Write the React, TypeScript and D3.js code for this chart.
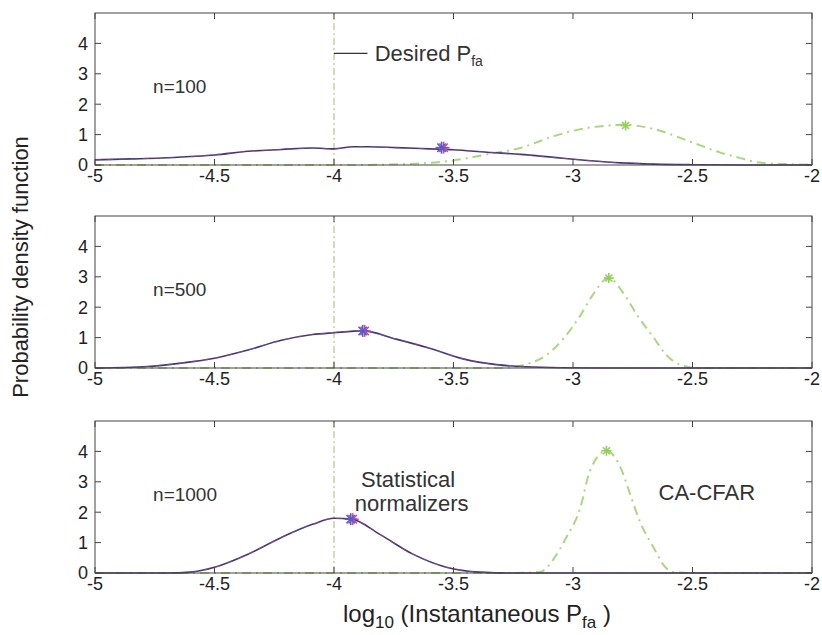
import React from 'react'
import * as d3 from 'd3'

// panel labels
const panelNames = ['n=100', 'n=500', 'n=1000']

// statistical normalizers (blue / red overlay)
const normX = [
    [-5, -4.85, -4.72, -4.6, -4.5, -4.36, -4.22, -4.09, -4.0, -3.92, -3.85, -3.74, -3.6, -3.5, -3.36, -3.22, -3.08, -2.94, -2.8, -2.66, -2.5, -2.3, -2],
    [-5, -4.78, -4.64, -4.5, -4.36, -4.22, -4.09, -4.0, -3.88, -3.74, -3.6, -3.46, -3.32, -3.2, -3.05, -2.8, -2],
    [-5, -4.7, -4.6, -4.5, -4.36, -4.22, -4.09, -4.0, -3.93, -3.81, -3.67, -3.53, -3.39, -3.25, -2]
]
const normY = [
    [0.17, 0.2, 0.23, 0.28, 0.33, 0.45, 0.51, 0.56, 0.53, 0.6, 0.6, 0.57, 0.53, 0.5, 0.42, 0.35, 0.25, 0.15, 0.07, 0.03, 0.01, 0, 0],
    [0, 0.05, 0.16, 0.32, 0.59, 0.91, 1.1, 1.16, 1.22, 0.95, 0.65, 0.3, 0.11, 0.04, 0.01, 0, 0],
    [0, 0, 0.03, 0.19, 0.62, 1.17, 1.6, 1.8, 1.78, 1.28, 0.62, 0.19, 0.03, 0, 0]
]
const normPeak = [[-3.55, 0.57], [-3.88, 1.22], [-3.93, 1.77]]

// CA-CFAR (green)
const cfarX = [
    [-5, -3.9, -3.7, -3.5, -3.36, -3.22, -3.08, -2.94, -2.78, -2.66, -2.52, -2.38, -2.31, -2.22, -2.1, -2],
    [-5, -3.3, -3.18, -3.11, -3.04, -2.97, -2.92, -2.85, -2.79, -2.73, -2.66, -2.61, -2.55, -2.48, -2],
    [-5, -3.25, -3.14, -3.08, -3.03, -2.97, -2.93, -2.86, -2.8, -2.76, -2.72, -2.66, -2.62, -2.58, -2.5, -2]
]
const cfarY = [
    [0, 0, 0.03, 0.15, 0.35, 0.56, 0.95, 1.22, 1.32, 1.18, 0.8, 0.4, 0.25, 0.08, 0.03, 0.01],
    [0, 0, 0.16, 0.43, 0.97, 1.72, 2.37, 2.96, 2.47, 1.72, 0.97, 0.43, 0.1, 0, 0],
    [0, 0, 0.03, 0.47, 1.14, 2.13, 3.34, 4.02, 3.45, 2.57, 1.69, 0.8, 0.25, 0.03, 0, 0]
]
const cfarPeak = [[-2.78, 1.3], [-2.85, 2.96], [-2.86, 4.02]]

const desiredPfa = -4
const xTicks = [-5, -4.5, -4, -3.5, -3, -2.5, -2]
const yTicks = [0, 1, 2, 3, 4]

const W = 822
const H = 635
const left = 95
const right = 812
const panelTops = [13, 216, 421]
const panelH = 152
const font = 'Liberation Sans, Arial, sans-serif'

const x = d3.scaleLinear().domain([-5, -2]).range([left, right])

const Star = ({ cx, cy, color, s = 6 }) => (
    <g stroke={color} strokeWidth={1.6}>
        <line x1={cx - s} y1={cy} x2={cx + s} y2={cy} />
        <line x1={cx} y1={cy - s} x2={cx} y2={cy + s} />
        <line x1={cx - s * 0.7} y1={cy - s * 0.7} x2={cx + s * 0.7} y2={cy + s * 0.7} />
        <line x1={cx - s * 0.7} y1={cy + s * 0.7} x2={cx + s * 0.7} y2={cy - s * 0.7} />
    </g>
)

const Panel = ({ i }) => {
    const top = panelTops[i]
    const y = d3.scaleLinear().domain([0, 5]).range([top + panelH, top])
    const line = d3.line<[number, number]>().x(d => x(d[0])).y(d => y(d[1])).curve(d3.curveMonotoneX)
    const norm = d3.zip(normX[i], normY[i]) as [number, number][]
    const cfar = d3.zip(cfarX[i], cfarY[i]) as [number, number][]
    const bottom = top + panelH
    const tk = 6
    return (
        <g>
            <line x1={x(desiredPfa)} x2={x(desiredPfa)} y1={bottom} y2={top} stroke="#b4b46e" strokeWidth={1} strokeDasharray="7,3,2,3" />
            <path d={line(cfar)} fill="none" stroke="#a9d77f" strokeWidth={2} strokeDasharray="9,5,2,5" />
            <path d={line(norm)} fill="none" stroke="#3a3a7a" strokeWidth={1.6} />
            <path d={line(norm)} fill="none" stroke="#d4507a" strokeWidth={1.2} strokeDasharray="6,6" opacity={0.45} />
            <Star cx={x(cfarPeak[i][0])} cy={y(cfarPeak[i][1])} color="#8fcf5a" s={5} />
            <Star cx={x(normPeak[i][0]) + 2} cy={y(normPeak[i][1])} color="#d4507a" />
            <Star cx={x(normPeak[i][0])} cy={y(normPeak[i][1])} color="#5a5ad0" />
            <rect x={left} y={top} width={right - left} height={panelH} fill="none" stroke="#444" strokeWidth={1} />
            {xTicks.map(t => (
                <g key={t}>
                    <line x1={x(t)} x2={x(t)} y1={bottom} y2={bottom - tk} stroke="#444" />
                    <line x1={x(t)} x2={x(t)} y1={top} y2={top + tk} stroke="#444" />
                    <text x={x(t)} y={bottom + 17} textAnchor="middle" fontSize={18} fill="#222">{t}</text>
                </g>
            ))}
            {yTicks.map(t => (
                <g key={t}>
                    <line x1={left} x2={left + tk} y1={y(t)} y2={y(t)} stroke="#444" />
                    <line x1={right} x2={right - tk} y1={y(t)} y2={y(t)} stroke="#444" />
                    <text x={left - 7} y={y(t)} dy="0.36em" textAnchor="end" fontSize={18} fill="#222">{t}</text>
                </g>
            ))}
            <text x={x(-4.757)} y={y(2.6)} dy="0.36em" fontSize={19} fill="#333">{panelNames[i]}</text>
        </g>
    )
}

export default function App() {
    const y1 = d3.scaleLinear().domain([0, 5]).range([panelTops[0] + panelH, panelTops[0]])
    const y3 = d3.scaleLinear().domain([0, 5]).range([panelTops[2] + panelH, panelTops[2]])
    return (
        <svg width={W} height={H} style={{ position: 'absolute', left: 0, top: 0, background: '#fff' }} fontFamily={font}>
            {[0, 1, 2].map(i => <Panel key={i} i={i} />)}
            {/* desired Pfa annotation */}
            <line x1={x(-4)} x2={x(-3.86)} y1={y1(3.67)} y2={y1(3.67)} stroke="#333" strokeWidth={1.2} />
            <text x={x(-3.83)} y={y1(3.67)} dy="0.36em" fontSize={22} fill="#333">
                Desired P<tspan fontSize={14} dy="0.35em">fa</tspan>
            </text>
            <text x={x(-3.69)} y={y3(3.1)} dy="0.36em" textAnchor="middle" fontSize={22} fill="#333">Statistical</text>
            <text x={x(-3.675)} y={y3(2.3)} dy="0.36em" textAnchor="middle" fontSize={22} fill="#333">normalizers</text>
            <text x={x(-2.44)} y={y3(2.67)} dy="0.36em" textAnchor="middle" fontSize={22} fill="#333">CA-CFAR</text>
            <text x={343} y={622} fontSize={24} fill="#222">
                log<tspan fontSize={17} dy="6">10</tspan>
                <tspan dy="-6"> (Instantaneous P</tspan>
                <tspan fontSize={17} dy="6">fa</tspan>
                <tspan dy="-6"> )</tspan>
            </text>
            <text transform={`translate(28,267) rotate(-90)`} textAnchor="middle" fontSize={22} fill="#222">
                Probability density function
            </text>
        </svg>
    )
}
